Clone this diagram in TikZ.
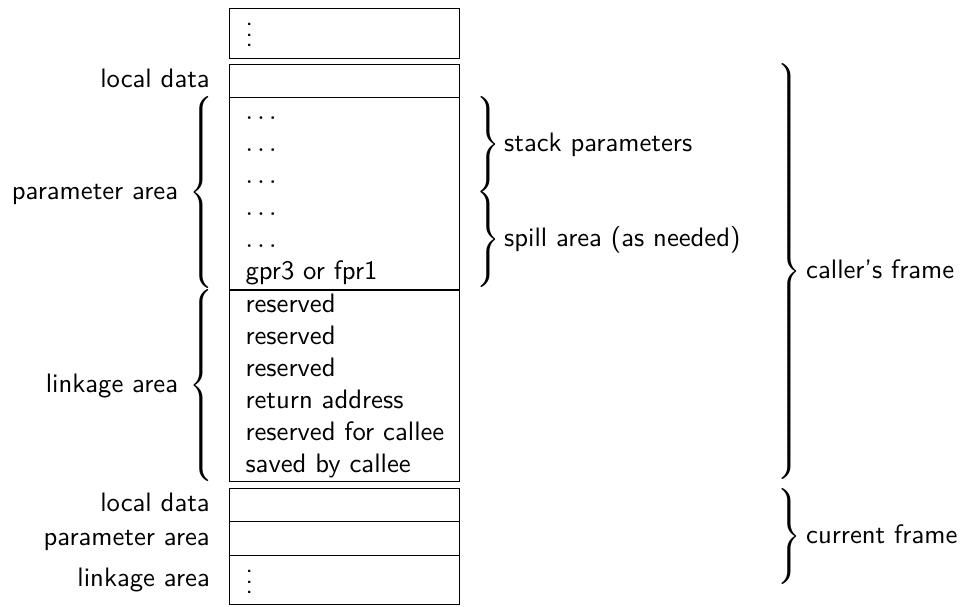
\documentclass[tikz,border=0pt]{standalone}
\usetikzlibrary{positioning}
\tikzset{
	cell/.style={draw, anchor=north west, minimum width=86.25pt, inner sep=0pt},
	row/.style={anchor=west, inner sep=0pt, text height=7pt, text depth=2pt},
	dots/.style={anchor=west, inner sep=0pt},
	tag/.style={anchor=east, inner sep=0pt, text height=7pt, text depth=2pt},
	note/.style={anchor=west, inner sep=0pt, text height=7pt, text depth=2pt},
	brc/.style={inner sep=0pt},
	every node/.style={font=\sffamily},
}
\delimiterfactor=1000
\delimitershortfall=0pt
\newcommand{\openbr}[1]{$\left\{\vcenter{\hbox{\rule{0pt}{#1}}}\right.$}
\newcommand{\closebr}[1]{$\left.\vcenter{\hbox{\rule{0pt}{#1}}}\right\}$}

\begin{document}
\begin{tikzpicture}[x=0.375pt, y=-0.375pt]
	\useasboundingbox (0,0) rectangle (961,607);
	% caller's frame
	\node[cell, minimum height=18.75pt] (top) at (229,8) {};
	\node[dots] (topdots) at (245,27) {\vdots};
	\node[cell, minimum height=12.4pt] (loc) at (229,64) {};
	\node[cell, minimum height=72pt] (par) at (229,97) {};
	\node[cell, minimum height=71.6pt] (lnk) at (229,290) {};
	\node[row] (p1) at (245,113) {$\ldots$};
	\node[row] (p2) at (245,145) {$\ldots$};
	\node[row] (p3) at (245,177) {$\ldots$};
	\node[row] (p4) at (245,209) {$\ldots$};
	\node[row] (p5) at (245,241) {$\ldots$};
	\node[row] (p6) at (245,273) {gpr3 or fpr1};
	\node[row] (l1) at (245,306) {reserved};
	\node[row] (l2) at (245,338) {reserved};
	\node[row] (l3) at (245,370) {reserved};
	\node[row] (l4) at (245,402) {return address};
	\node[row] (l5) at (245,434) {reserved for callee};
	\node[row] (l6) at (245,466) {saved by callee};
	% current frame
	\node[cell, minimum height=12.4pt] (cloc) at (229,488) {};
	\node[cell, minimum height=12.75pt] (cpar) at (229,521) {};
	\node[cell, minimum height=18.4pt] (clnk) at (229,555) {};
	\node[dots] (bdots) at (245,574) {\vdots};
	% left side
	\node[tag, left=7pt of loc.west] (locl) {local data};
	\node[brc, anchor=east] (parb) at (217,193) {\openbr{70pt}};
	\node[tag, left=3.9pt of parb] (parl) {parameter area};
	\node[brc, anchor=east] (lnkb) at (217,385.5) {\openbr{69.6pt}};
	\node[tag, left=3.9pt of lnkb] (lnkl) {linkage area};
	\node[tag, left=7pt of cloc.west] (clocl) {local data};
	\node[tag, left=7pt of cpar.west] (cparl) {parameter area};
	\node[tag, left=7pt of clnk.west] (clnkl) {linkage area};
	% right side
	\node[brc, anchor=west] (stkb) at (473,144.5) {\closebr{33pt}};
	\node[note, right=1pt of stkb] (stkl) {stack parameters};
	\node[brc, anchor=west] (splb) at (473,240) {\closebr{33.6pt}};
	\node[note, right=1pt of splb] (spll) {spill area (as needed)};
	\node[brc, anchor=west] (callb) at (774,271.5) {\closebr{153pt}};
	\node[note, right=1.4pt of callb] (calll) {caller's frame};
	\node[brc, anchor=west] (curb) at (774,536.5) {\closebr{33pt}};
	\node[note, right=1.4pt of curb] (curl) {current frame};
\end{tikzpicture}
\end{document}
